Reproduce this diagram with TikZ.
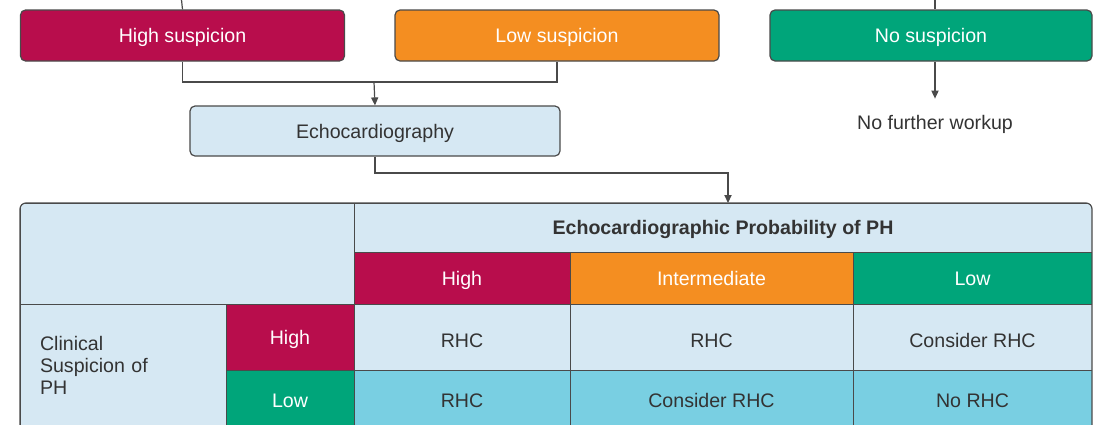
\documentclass[tikz,border=0pt]{standalone}
\usepackage{fontspec}
\setmainfont{Liberation Sans}
\usetikzlibrary{arrows.meta}
\definecolor{carmin}{HTML}{B80D4C}
\definecolor{naranja}{HTML}{F48E21}
\definecolor{verde}{HTML}{00A57A}
\definecolor{celeste}{HTML}{D6E8F3}
\definecolor{cian}{HTML}{79CFE2}
\definecolor{tinta}{HTML}{333333}
\definecolor{borde}{HTML}{4A4A4A}
\tikzset{
  texto/.style={font=\fontsize{9.8}{11}\selectfont,text height=8pt,text depth=1pt},
  caja/.style={texto,draw=borde,line width=0.6pt,rounded corners=2.5pt,minimum width=162pt,minimum height=25.5pt,inner sep=0pt,text=white},
  cajaeco/.style={caja,fill=celeste,text=tinta,minimum width=185pt,minimum height=25pt},
  celda/.style={texto,draw=borde,line width=0.5pt,inner sep=0pt,text=tinta},
  etiq/.style={celda,text=white},
  colA/.style={minimum width=108pt},
  colB/.style={minimum width=141.5pt},
  colC/.style={minimum width=119.5pt},
  fila/.style={minimum height=33pt},
  filab/.style={minimum height=30pt},
  bajo/.style={text height=10pt,text depth=0pt},
  linea/.style={draw=borde,line width=0.6pt},
  flecha/.style={linea,-{Triangle[length=4pt,width=3.6pt]}},
}
\begin{document}
\begin{tikzpicture}[x=0.5pt,y=-0.5pt]
\clip (0,0) rectangle (1094,424);
% suspicion boxes
\node[caja,fill=carmin] (alta) at (182.5,35.5) {High suspicion};
\node[caja,fill=naranja] (baja) at (557,35.5) {Low suspicion};
\node[caja,fill=verde,minimum width=161pt] (nula) at (931,35.5) {No suspicion};
\node[cajaeco] (eco) at (375,131) {Echocardiography};
\node[texto,text=tinta,inner sep=0pt] (nada) at (935,122) {No further workup};
\coordinate (entradaA) at (181,-5);
\coordinate (entradaN) at (935,-5);
\coordinate (union) at (374,82);
\coordinate (codo) at (728,173);
\coordinate (entradaT) at (728,203);
\draw[linea] (entradaA) -- (alta.north);
\draw[linea] (entradaN) -- (nula.north -| entradaN);
\draw[linea] (alta.south) |- (union) -| (baja.south);
\draw[flecha] (union) -- (eco.north);
\draw[flecha] (nula.south -| nada.north) -- ++(0,37);
\draw[flecha] (eco.south) |- (codo) -- (entradaT);
% table
\begin{scope}
\clip[rounded corners=3pt] (20,203) rectangle (1092,470);
\node[celda,fill=celeste,minimum width=167pt,minimum height=50.5pt] (vacia) at (187,253.5) {};
\node[celda,fill=celeste,minimum width=369pt,minimum height=24.5pt,font=\fontsize{9.8}{11}\selectfont\bfseries] (probeco) at (723,227.5) {Echocardiographic Probability of PH};
\node[etiq,fill=carmin,colA,minimum height=26pt] (pAlta) at (462,278) {High};
\node[etiq,fill=naranja,colB,minimum height=26pt] (pMedia) at (711.5,278) {Intermediate};
\node[etiq,fill=verde,colC,minimum height=26pt] (pBaja) at (972.5,278) {Low};
\node[draw=borde,line width=0.5pt,fill=celeste,text=tinta,font=\fontsize{9.8}{11}\selectfont,inner sep=0pt,minimum width=103pt,minimum height=61pt,text width=83pt,align=left] (clinica) at (123,365) {Clinical\\Suspicion of\\PH};
\node[etiq,fill=carmin,minimum width=64pt,fila] (sAlta) at (290,337) {High};
\node[etiq,fill=verde,minimum width=64pt,filab] (sBaja) at (290,400) {Low};
\node[celda,fill=celeste,colA,fila,bajo] (c11) at (462,337) {RHC};
\node[celda,fill=celeste,colB,fila,bajo] (c12) at (711.5,337) {RHC};
\node[celda,fill=celeste,colC,fila,bajo] (c13) at (972.5,337) {Consider RHC};
\node[celda,fill=cian,colA,filab] (c21) at (462,400) {RHC};
\node[celda,fill=cian,colB,filab] (c22) at (711.5,400) {Consider RHC};
\node[celda,fill=cian,colC,filab] (c23) at (972.5,400) {No RHC};
\end{scope}
\draw[linea,rounded corners=3pt] (20,203) rectangle (1092,470);
\end{tikzpicture}
\end{document}
